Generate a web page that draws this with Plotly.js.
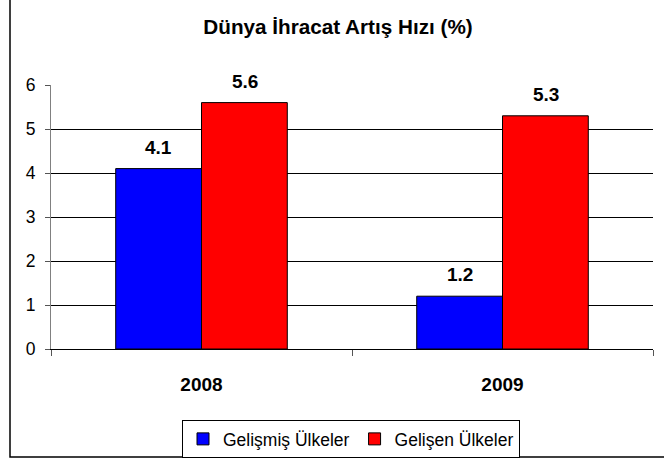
<!DOCTYPE html>
<html>
<head>
<meta charset="utf-8">
<script src="https://cdn.plot.ly/plotly-3.0.1.min.js"></script>
<style>html,body{margin:0;padding:0;background:#fff;} #chart{width:664px;height:462px;}</style>
</head>
<body>
<div id="chart"></div>
<script>
const categories = ["2008", "2009"];
const seriesNames = ["Gelişmiş Ülkeler", "Gelişen Ülkeler"];
const gelismis = [4.1, 1.2];
const gelisen = [5.6, 5.3];
const yTicks = [0, 1, 2, 3, 4, 5, 6];
const titleText = "Dünya İhracat Artış Hızı (%)";

const colors = ["#0000FF", "#FF0000"];
const seriesValues = [gelismis, gelisen];

const traces = seriesValues.map((vals, i) => ({
  type: "bar",
  name: seriesNames[i],
  x: categories,
  y: vals,
  marker: {color: colors[i], line: {color: "#000", width: 1}},
  hoverinfo: "none"
}));

const W = 664, H = 462;
const L = 51, R = 11, T = 85, B = 113;
const pw = W - L - R, ph = H - T - B;
const px = v => (v - L) / pw;
const py = v => (H - B - v) / ph;
const FONT = "Arial, Liberation Sans, sans-serif";

const annotations = [];
seriesValues.forEach((vals, i) => {
  vals.forEach((v, j) => {
    annotations.push({
      x: j, y: v, xref: "x", yref: "y",
      text: v.toFixed(1),
      showarrow: false, yanchor: "bottom", xanchor: "center",
      xshift: (i === 0 ? -1 : 1) * 43, yshift: 9,
      font: {family: FONT, size: 19, color: "#000", weight: "bold"}
    });
  });
});

const layout = {
  width: W, height: H,
  margin: {l: L, r: R, t: T, b: B, pad: 0, autoexpand: false},
  paper_bgcolor: "#fff", plot_bgcolor: "#fff",
  font: {family: FONT, color: "#000", size: 17},
  title: {
    text: titleText,
    font: {size: 20.7, family: FONT, color: "#000", weight: "bold"},
    x: px(338), xref: "paper", xanchor: "center",
    y: 1 - 27 / H, yref: "container", yanchor: "middle"
  },
  barmode: "group",
  bargap: 0.43,
  bargroupgap: 0,
  showlegend: true,
  legend: {
    orientation: "h", x: px(351), xanchor: "center",
    y: 1 - 420 / H, yref: "container", yanchor: "top",
    bordercolor: "#000", borderwidth: 1, bgcolor: "#fff",
    font: {size: 17.5, family: FONT}, traceorder: "normal"
  },
  xaxis: {
    type: "category",
    showline: true, linecolor: "#000", linewidth: 1,
    ticks: "outside", tickson: "boundaries", ticklen: 6, tickcolor: "#555",
    ticklabelstandoff: 18,
    tickfont: {size: 19, family: FONT, weight: "bold"},
    showgrid: false, zeroline: false
  },
  yaxis: {
    range: [0, 6], tickvals: yTicks,
    showline: true, linecolor: "#808080", linewidth: 1,
    ticks: "outside", ticklen: 5, tickcolor: "#555",
    ticklabelstandoff: 6,
    showgrid: true, gridcolor: "#000", gridwidth: 1,
    zeroline: false,
    tickfont: {size: 17.5, family: FONT}
  },
  annotations: annotations,
  shapes: [{
    type: "rect", xref: "paper", yref: "paper",
    x0: px(10), x1: px(672), y0: py(457), y1: py(-5),
    line: {color: "#000", width: 1.5}, fillcolor: "rgba(0,0,0,0)", layer: "below"
  }]
};

Plotly.newPlot("chart", traces, layout, {displayModeBar: false, staticPlot: true});
</script>
</body>
</html>
